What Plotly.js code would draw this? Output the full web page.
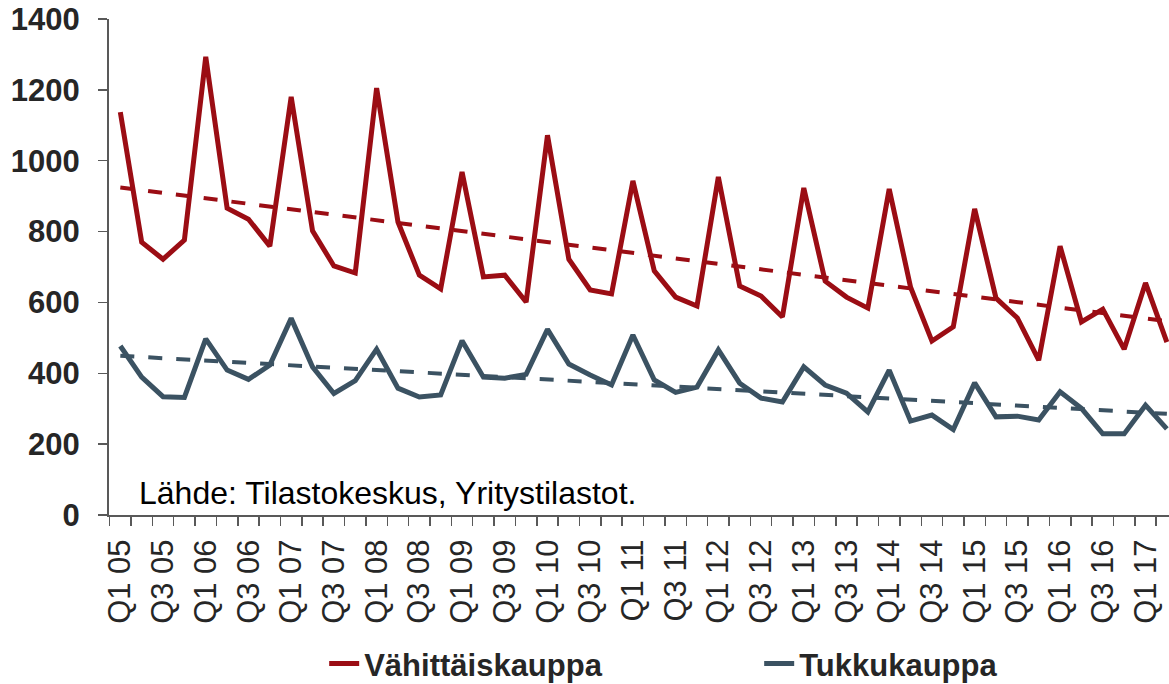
<!DOCTYPE html>
<html>
<head>
<meta charset="utf-8">
<script src="https://cdn.plot.ly/plotly-3.0.1.min.js"></script>
<style>html,body{margin:0;padding:0;background:#fff}#chart{width:1169px;height:684px}</style>
</head>
<body>
<div id="chart"></div>
<script>
const quarters = ["Q1 05","Q2 05","Q3 05","Q4 05","Q1 06","Q2 06","Q3 06","Q4 06","Q1 07","Q2 07","Q3 07","Q4 07","Q1 08","Q2 08","Q3 08","Q4 08","Q1 09","Q2 09","Q3 09","Q4 09","Q1 10","Q2 10","Q3 10","Q4 10","Q1 11","Q2 11","Q3 11","Q4 11","Q1 12","Q2 12","Q3 12","Q4 12","Q1 13","Q2 13","Q3 13","Q4 13","Q1 14","Q2 14","Q3 14","Q4 14","Q1 15","Q2 15","Q3 15","Q4 15","Q1 16","Q2 16","Q3 16","Q4 16","Q1 17","Q2 17"];
const vahittais = [1137,770,722,776,1293,866,835,759,1180,802,703,683,1205,827,677,638,968,672,677,601,1072,722,635,624,943,689,615,590,954,646,618,559,923,660,615,584,920,643,491,531,864,612,556,437,759,545,581,468,655,488];
const tukku = [477,389,334,332,497,409,383,423,555,418,343,379,468,358,333,339,492,389,386,397,524,426,395,367,508,381,346,361,466,372,330,319,418,367,344,291,409,265,282,241,373,277,279,268,348,301,229,229,310,243];
const seriesNames = ["Vähittäiskauppa","Tukkukauppa"];
const colors = ["#9b0d14","#3b5262"];
const sourceText = "Lähde: Tilastokeskus, Yritystilastot.";

const idx = quarters.map((q,i)=>i);
function linfit(y){
  const n=y.length; let sx=0,sy=0,sxx=0,sxy=0;
  for(let i=0;i<n;i++){sx+=i;sy+=y[i];sxx+=i*i;sxy+=i*y[i];}
  const b=(n*sxy-sx*sy)/(n*sxx-sx*sx); const a=(sy-b*sx)/n;
  return idx.map(i=>a+b*i);
}
const font = "Liberation Sans, Arial, sans-serif";
const traces = [
  {x:idx,y:vahittais,type:'scatter',mode:'lines',name:seriesNames[0],line:{color:colors[0],width:5}},
  {x:idx,y:tukku,type:'scatter',mode:'lines',name:seriesNames[1],line:{color:colors[1],width:5}},
  {x:idx,y:linfit(vahittais),type:'scatter',mode:'lines',showlegend:false,hoverinfo:'skip',line:{color:colors[0],width:4,dash:'14px,14px'}},
  {x:idx,y:linfit(tukku),type:'scatter',mode:'lines',showlegend:false,hoverinfo:'skip',line:{color:colors[1],width:4,dash:'14px,14px'}}
];
const labelVals = idx.filter(i=>i%2===0);
const layout = {
  width:1169,height:684,
  margin:{l:109,r:0,t:19,b:169,autoexpand:false},
  paper_bgcolor:'#fff',plot_bgcolor:'#fff',
  showlegend:true,
  font:{family:font,color:'#262626'},
  xaxis:{
    range:[-0.53,49.1],automargin:false,
    tickmode:'array',tickvals:labelVals,ticktext:labelVals.map(i=>quarters[i]),
    tickangle:-90,ticks:'',ticklen:0,ticklabelstandoff:10,
    tickfont:{size:31,color:'#262626',family:font},
    showline:true,linecolor:'#595959',linewidth:2,
    showgrid:false,zeroline:false,
    minor:{tickmode:'array',tickvals:idx.map(i=>i-0.5).concat([49.5]),ticks:'outside',ticklen:9,tickwidth:1.5,tickcolor:'#595959',showgrid:false}
  },
  yaxis:{
    range:[0,1400],dtick:200,tick0:0,automargin:false,
    ticks:'outside',ticklen:9,tickwidth:1.5,tickcolor:'#595959',ticklabelstandoff:12,
    tickfont:{size:31,color:'#262626',family:font,weight:'bold'},
    showline:true,linecolor:'#595959',linewidth:2,
    showgrid:false,zeroline:false
  },
  legend:{orientation:'h',x:0.203,xanchor:'left',y:-0.300,yanchor:'middle',
    font:{size:31,color:'#262626',family:font,weight:'bold'},
    entrywidth:390,entrywidthmode:'pixels',bgcolor:'rgba(0,0,0,0)'},
  annotations:[{xref:'paper',yref:'y',x:0.026,y:62,xanchor:'left',yanchor:'middle',text:sourceText,showarrow:false,font:{size:32,color:'#000',family:font}}]
};
Plotly.newPlot('chart',traces,layout,{displayModeBar:false,staticPlot:true});
</script>
</body>
</html>
